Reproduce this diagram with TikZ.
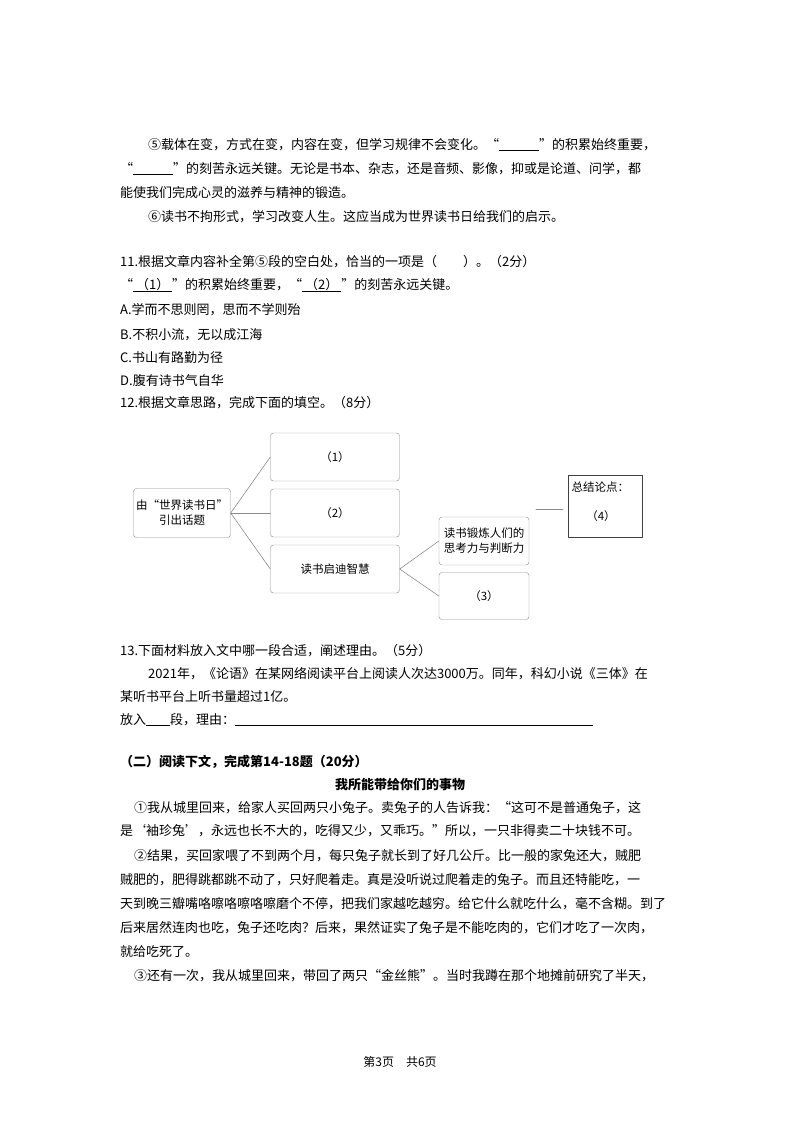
\documentclass[tikz,border=0pt]{standalone}
\usepackage{fontspec}
\setmainfont{Noto Sans CJK SC}
\usetikzlibrary{positioning}
\newcommand{\blank}[1]{\underline{\hspace{#1}}}
\tikzset{
  txt/.style={anchor=base west,inner sep=0pt,font=\fontsize{13}{15}\selectfont},
  mapbox/.style={draw=black!45,rounded corners=3pt,align=center,inner sep=1pt,font=\fontsize{11.5}{15}\selectfont},
  link/.style={draw=black!45,line width=0.6pt}
}
\begin{document}
\begin{tikzpicture}[line cap=round,line join=round,x=1pt,y=-1pt]
    \useasboundingbox (0,0) rectangle (800,1132);
    % paragraphs 5 and 6
    \node[txt] (p1) at (148,149) {⑤载体在变，方式在变，内容在变，但学习规律不会变化。“\blank{40pt}”的积累始终重要，};
    \node[txt] (p2) at (120,173) {“\blank{40pt}”的刻苦永远关键。无论是书本、杂志，还是音频、影像，抑或是论道、问学，都};
    \node[txt] (p3) at (120,197) {能使我们完成心灵的滋养与精神的锻造。};
    \node[txt] (p4) at (148,221) {⑥读书不拘形式，学习改变人生。这应当成为世界读书日给我们的启示。};
    % question 11
    \node[txt] (q11) at (120,266) {11.根据文章内容补全第⑤段的空白处，恰当的一项是（\hspace{26pt}）。（2分）};
    \node[txt] (q11b) at (120,289) {“\underline{\ （1）\ }”的积累始终重要，“\underline{\ （2）\ }”的刻苦永远关键。};
    \node[txt] (qa) at (120,314) {A.学而不思则罔，思而不学则殆};
    \node[txt] (qb) at (120,339) {B.不积小流，无以成江海};
    \node[txt] (qc) at (120,362) {C.书山有路勤为径};
    \node[txt] (qd) at (120,385) {D.腹有诗书气自华};
    \node[txt] (q12) at (120,407) {12.根据文章思路，完成下面的填空。（8分）};

    % map
    \draw(182,513) node[mapbox,minimum width=97pt,minimum height=49pt] (topic) {由“世界读书日”\\引出话题};
    \draw(335,457) node[mapbox,minimum width=129pt,minimum height=48pt] (b1) {（1）};
    \draw(335,513) node[mapbox,minimum width=129pt,minimum height=48pt] (b2) {（2）};
    \draw(335,569) node[mapbox,minimum width=129pt,minimum height=48pt] (wis) {读书启迪智慧};
    \draw(484,541) node[mapbox,minimum width=90pt,minimum height=48pt] (train) {读书锻炼人们的\\思考力与判断力};
    \draw(484,596) node[mapbox,minimum width=90pt,minimum height=47pt] (b3) {（3）};
    \draw(605,506) node[draw=black!75,line width=0.7pt,minimum width=74pt,minimum height=62pt] (sum) {};
    \node[font=\fontsize{11.5}{15}\selectfont,anchor=north west] (sumt) at (568,478) {总结论点：};
    \node[font=\fontsize{11.5}{15}\selectfont] (sum4) at (601,516) {（4）};
    \coordinate (l1) at (536,509);
    \coordinate (l2) at (563,509);

    % Edges
    \foreach \source/\target in {topic/b1, topic/b2, topic/wis, wis/train, wis/b3} {
            \draw[link] (\source.east) -- (\target.west);
        }
    \draw[link] (l1) -- (l2);

    % question 13
    \node[txt] (q13) at (120,655) {13.下面材料放入文中哪一段合适，阐述理由。（5分）};
    \node[txt] (m1) at (148,678) {2021年，《论语》在某网络阅读平台上阅读人次达3000万。同年，科幻小说《三体》在};
    \node[txt] (m2) at (120,701) {某听书平台上听书量超过1亿。};
    \node[txt] (m3) at (120,724) {放入\blank{24pt}段，理由：\blank{358pt}};

    % part two
    \node[txt,font=\fontsize{13}{15}\selectfont\bfseries] (sec) at (120,766) {（二）阅读下文，完成第14-18题（20分）};
    \node[font=\fontsize{13}{15}\selectfont\bfseries,anchor=base] (title) at (400,789) {我所能带给你们的事物};
    \node[txt] (r1) at (134,812) {①我从城里回来，给家人买回两只小兔子。卖兔子的人告诉我：“这可不是普通兔子，这};
    \node[txt] (r2) at (120,835) {是‘袖珍兔’，永远也长不大的，吃得又少，又乖巧。”所以，一只非得卖二十块钱不可。};
    \node[txt] (r3) at (134,860) {②结果，买回家喂了不到两个月，每只兔子就长到了好几公斤。比一般的家兔还大，贼肥};
    \node[txt] (r4) at (120,884) {贼肥的，肥得跳都跳不动了，只好爬着走。真是没听说过爬着走的兔子。而且还特能吃，一};
    \node[txt] (r5) at (120,908) {天到晚三瓣嘴咯嚓咯嚓咯嚓磨个不停，把我们家越吃越穷。给它什么就吃什么，毫不含糊。到了};
    \node[txt] (r6) at (120,932) {后来居然连肉也吃，兔子还吃肉？后来，果然证实了兔子是不能吃肉的，它们才吃了一次肉，};
    \node[txt] (r7) at (120,956) {就给吃死了。};
    \node[txt] (r8) at (134,980) {③还有一次，我从城里回来，带回了两只“金丝熊”。当时我蹲在那个地摊前研究了半天，};

    \node[font=\fontsize{12}{14}\selectfont,anchor=base] (foot) at (400,1066) {第3页\quad 共6页};
\end{tikzpicture}
\end{document}
